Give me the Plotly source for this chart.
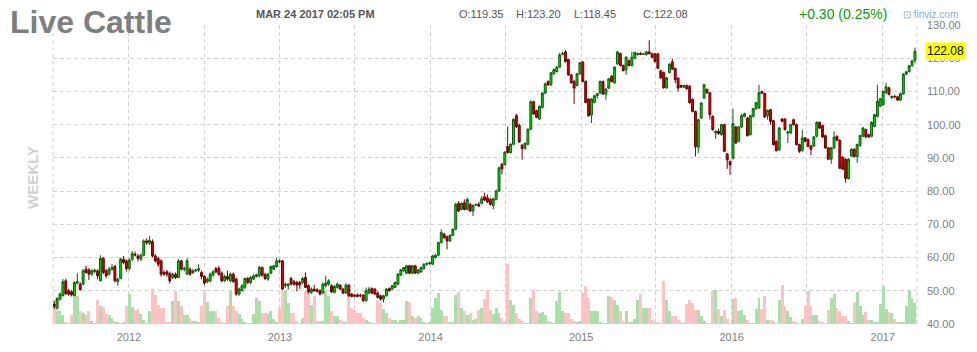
import plotly.graph_objects as go
import pandas as pd

# weekly bars: (open, high, low, close, volume)
w2011 = [
    (46.0, 47.0, 44.5, 45.3, 19), (44.8, 48.0, 44.2, 47.7, 13), (47.5, 49.5, 47.0, 49.0, 13),
    (48.6, 53.5, 48.2, 52.7, 9), (53.0, 53.6, 48.8, 49.1, 2), (50.0, 50.6, 48.5, 49.0, 1),
    (49.7, 50.2, 48.3, 48.8, 9), (48.6, 52.8, 48.3, 52.5, 28), (52.3, 55.3, 52.0, 52.7, 28),
    (52.0, 52.5, 50.0, 50.4, 13), (52.0, 56.5, 51.8, 56.0, 11), (56.5, 57.5, 55.2, 55.5, 9),
    (56.3, 56.8, 53.2, 55.0, 13), (55.0, 56.5, 54.5, 56.0, 3), (55.8, 56.7, 55.2, 56.2, 1),
    (56.0, 56.4, 53.5, 54.5, 24), (53.0, 60.7, 52.8, 59.7, 18), (59.7, 60.2, 55.0, 55.5, 17),
    (56.0, 56.6, 53.8, 54.5, 10), (55.0, 57.2, 54.6, 56.5, 9), (56.5, 58.0, 56.0, 57.0, 6),
    (57.3, 57.8, 52.5, 53.0, 3), (52.7, 54.0, 51.5, 53.5, 2), (53.7, 60.0, 53.5, 59.5, 1),
    (59.5, 60.5, 58.0, 58.5, 2), (59.0, 59.5, 55.8, 56.7, 18),
]
w2012 = [
    (56.7, 59.8, 56.0, 59.2, 30), (59.5, 62.0, 59.0, 61.2, 17), (61.0, 61.8, 60.3, 60.8, 14),
    (60.5, 61.0, 58.8, 59.7, 15), (59.5, 61.2, 59.0, 60.7, 10), (60.7, 65.5, 60.3, 65.0, 4),
    (65.0, 65.8, 63.8, 64.5, 1), (64.3, 66.5, 63.8, 65.2, 13), (64.8, 65.5, 60.0, 60.5, 35),
    (60.5, 61.0, 58.5, 59.0, 29), (59.7, 60.3, 57.2, 58.0, 19), (59.0, 59.5, 54.3, 55.0, 16),
    (55.5, 56.2, 54.5, 55.0, 16), (55.7, 56.3, 54.2, 55.0, 2), (55.2, 55.8, 52.2, 53.0, 2),
    (54.0, 55.5, 53.5, 55.0, 23), (55.0, 55.5, 53.5, 54.0, 33), (54.0, 59.5, 53.8, 59.0, 23),
    (59.0, 59.3, 56.0, 56.5, 18), (56.5, 57.3, 55.8, 56.7, 9), (55.0, 59.8, 54.8, 59.0, 9),
    (56.5, 57.0, 54.5, 55.0, 6), (55.5, 56.5, 55.0, 56.0, 3), (56.0, 56.6, 55.6, 56.2, 3),
    (56.2, 58.0, 55.6, 56.6, 2), (55.5, 56.0, 53.5, 54.3, 18), (54.3, 54.8, 51.8, 52.3, 34),
    (52.7, 54.0, 52.3, 53.5, 22), (53.0, 55.5, 52.5, 55.0, 13), (54.8, 56.2, 54.2, 55.7, 13),
    (56.7, 57.2, 55.3, 55.7, 13), (56.7, 57.5, 54.5, 55.0, 6), (55.3, 55.8, 52.5, 53.0, 2),
    (53.0, 54.8, 52.6, 54.3, 1), (54.3, 56.0, 53.0, 53.5, 18), (53.0, 55.5, 52.5, 55.0, 34),
    (55.0, 55.5, 52.5, 52.7, 18), (53.5, 54.0, 48.5, 49.0, 13), (49.0, 51.0, 48.5, 50.5, 10),
    (50.0, 52.0, 49.8, 51.5, 5), (51.0, 54.0, 50.5, 53.7, 2), (53.7, 54.2, 52.0, 52.5, 1),
    (52.5, 54.5, 52.0, 54.0, 1), (53.5, 55.0, 53.2, 54.5, 10), (54.3, 55.2, 54.0, 54.8, 26),
    (54.5, 57.5, 54.0, 57.0, 23), (57.0, 57.3, 54.2, 54.7, 11), (55.0, 55.3, 53.2, 53.7, 11),
    (53.5, 55.4, 53.0, 55.0, 10), (55.3, 57.6, 55.0, 57.3, 13), (56.5, 57.8, 56.2, 57.5, 5),
    (57.3, 60.0, 57.0, 59.0, 2), (59.0, 59.5, 58.3, 58.8, 16),
]
w2013 = [
    (59.0, 59.3, 50.2, 50.5, 33), (51.5, 52.5, 50.8, 52.0, 33), (51.5, 52.3, 50.3, 52.0, 21),
    (53.7, 54.2, 51.6, 52.0, 11), (52.7, 53.3, 51.5, 52.0, 11), (52.5, 53.0, 49.8, 51.7, 3),
    (52.5, 53.0, 50.5, 51.8, 1), (52.5, 54.2, 52.0, 53.7, 6), (54.0, 55.5, 50.8, 51.0, 33),
    (51.5, 52.0, 49.2, 49.7, 33), (49.5, 51.0, 49.0, 50.5, 19), (50.5, 51.8, 49.7, 50.0, 28),
    (50.3, 50.8, 49.5, 49.8, 3), (50.0, 50.5, 48.6, 49.0, 3), (49.3, 52.5, 49.0, 52.0, 3),
    (51.5, 54.5, 51.0, 52.3, 33), (52.0, 53.5, 51.5, 53.0, 28), (51.5, 52.0, 49.3, 49.7, 13),
    (49.5, 51.8, 49.2, 51.3, 8), (51.0, 52.5, 50.6, 52.0, 8), (51.7, 52.0, 50.2, 50.5, 4),
    (50.5, 50.8, 49.0, 49.3, 3), (49.3, 52.3, 49.0, 51.7, 2), (51.7, 52.0, 48.2, 48.5, 29),
    (49.0, 49.3, 48.0, 48.3, 16), (48.7, 49.0, 48.0, 48.4, 14), (48.8, 49.2, 48.0, 48.3, 11),
    (48.6, 49.2, 48.0, 48.5, 11), (48.7, 49.0, 46.7, 47.0, 6), (47.0, 51.0, 46.8, 50.0, 4),
    (49.3, 51.2, 49.0, 50.5, 2), (50.7, 51.0, 49.0, 49.3, 1), (50.5, 50.8, 48.7, 49.0, 1),
    (49.3, 49.8, 47.7, 48.0, 23), (48.5, 48.8, 47.0, 47.5, 21), (47.5, 48.8, 46.5, 48.5, 15),
    (48.5, 50.8, 48.2, 50.5, 11), (50.7, 51.0, 49.7, 50.0, 6), (50.5, 51.8, 50.2, 51.5, 4),
    (51.0, 52.8, 50.8, 52.5, 4), (52.0, 55.3, 51.7, 55.0, 2), (54.7, 56.5, 54.4, 56.3, 4),
    (56.0, 57.2, 55.7, 57.0, 4), (55.3, 57.8, 55.0, 57.5, 23), (57.5, 57.8, 55.0, 55.3, 22),
    (55.3, 57.7, 55.0, 57.5, 8), (57.5, 57.8, 55.0, 55.3, 6), (55.3, 56.6, 55.0, 56.3, 8),
    (55.7, 57.3, 55.4, 57.0, 6), (56.7, 58.3, 56.4, 58.0, 2), (58.0, 58.5, 57.5, 58.2, 1),
    (58.2, 58.8, 57.8, 58.4, 2),
]
w2014 = [
    (58.0, 60.8, 57.8, 60.5, 16), (60.0, 61.0, 59.7, 60.7, 26), (60.7, 64.8, 60.4, 64.5, 31),
    (64.5, 68.5, 64.2, 67.5, 14), (67.0, 67.5, 65.5, 66.0, 8), (66.3, 66.6, 62.5, 65.0, 8),
    (65.0, 67.0, 64.7, 66.7, 2), (66.7, 68.8, 66.4, 68.5, 2), (68.5, 76.5, 68.2, 76.0, 29),
    (76.3, 77.0, 73.7, 74.0, 32), (74.5, 76.6, 74.2, 76.3, 16), (76.5, 77.5, 74.2, 74.5, 13),
    (74.5, 78.0, 74.2, 77.5, 9), (76.0, 76.5, 73.7, 74.0, 11), (74.0, 76.0, 72.5, 75.7, 4),
    (75.8, 76.3, 75.5, 76.0, 5), (76.0, 76.8, 75.2, 75.5, 14), (76.3, 78.5, 76.0, 77.7, 16),
    (78.3, 79.5, 77.0, 77.3, 25), (78.0, 79.0, 76.4, 76.7, 34), (77.5, 78.0, 75.7, 76.0, 14),
    (75.7, 78.0, 74.5, 77.7, 10), (77.5, 80.5, 77.2, 80.0, 16), (80.0, 87.3, 79.7, 87.0, 11),
    (88.0, 88.5, 85.0, 86.7, 6), (88.0, 92.0, 87.7, 91.7, 2), (93.4, 99.4, 91.3, 91.6, 60),
    (91.6, 94.4, 91.3, 94.1, 24), (94.1, 101.9, 93.8, 101.6, 19), (102.7, 103.3, 99.0, 99.4, 11),
    (99.8, 100.3, 94.5, 94.8, 5), (93.8, 94.2, 89.5, 92.8, 3), (92.8, 94.7, 92.5, 94.4, 1),
    (94.1, 98.9, 93.8, 98.6, 1), (98.6, 107.3, 98.3, 106.9, 26), (106.9, 107.2, 102.9, 103.2, 34),
    (104.2, 104.5, 101.9, 102.2, 13), (101.7, 105.8, 101.4, 105.5, 11), (105.2, 109.8, 104.9, 109.5, 12),
    (109.5, 112.6, 109.2, 112.3, 9), (113.0, 113.3, 111.7, 112.0, 3), (112.0, 115.9, 111.7, 115.6, 2),
    (115.3, 116.9, 115.0, 116.6, 1), (116.0, 117.6, 115.7, 117.3, 23), (117.3, 121.6, 117.0, 121.0, 32),
    (121.2, 122.0, 120.8, 121.4, 13), (121.9, 122.5, 118.7, 119.0, 11), (119.6, 119.9, 114.7, 115.0, 11),
    (115.0, 115.3, 112.3, 112.6, 5), (113.0, 113.5, 106.2, 111.0, 3), (111.8, 115.6, 111.5, 115.3, 2),
    (115.3, 118.9, 115.0, 118.6, 3),
]
w2015 = [
    (118.8, 119.2, 112.7, 113.0, 31), (113.0, 113.3, 106.4, 106.7, 38), (107.7, 108.0, 102.4, 102.7, 26),
    (102.9, 108.0, 100.5, 107.7, 13), (106.7, 109.0, 106.4, 108.7, 13), (108.7, 109.6, 107.8, 109.3, 13),
    (109.5, 113.3, 109.2, 113.0, 2), (113.0, 113.3, 108.9, 109.2, 1), (109.2, 111.0, 107.5, 110.7, 1),
    (111.0, 114.1, 110.7, 113.8, 28), (114.6, 114.9, 112.7, 113.0, 27), (112.6, 117.6, 112.3, 117.3, 24),
    (118.3, 122.2, 118.0, 121.9, 19), (121.4, 121.7, 117.5, 117.8, 13), (117.8, 118.1, 116.0, 116.3, 3),
    (116.5, 120.6, 115.0, 120.3, 13), (119.3, 119.6, 117.5, 117.8, 2), (117.8, 122.0, 117.5, 120.3, 2),
    (120.0, 122.0, 119.7, 121.7, 5), (121.1, 121.7, 120.8, 121.4, 24), (121.4, 121.8, 120.9, 121.2, 30),
    (121.2, 121.6, 121.0, 121.3, 16), (121.1, 122.2, 120.8, 121.9, 16), (121.9, 125.4, 121.1, 121.4, 16),
    (121.4, 121.7, 120.0, 120.3, 4), (121.3, 121.6, 118.7, 119.0, 2), (121.3, 121.6, 116.7, 117.0, 2),
    (116.2, 116.5, 113.8, 114.1, 1), (115.7, 116.0, 110.8, 111.1, 43), (111.1, 114.4, 110.8, 114.1, 24),
    (115.7, 118.5, 115.4, 118.2, 13), (118.9, 119.8, 116.4, 116.7, 8), (116.9, 117.2, 112.5, 113.6, 8),
    (114.0, 114.3, 110.0, 111.0, 4), (111.8, 112.1, 111.0, 111.3, 2), (111.3, 112.0, 111.0, 111.8, 1),
    (111.8, 112.1, 110.5, 110.8, 20), (111.6, 111.9, 106.3, 106.6, 24), (107.6, 107.9, 103.7, 104.0, 21),
    (104.0, 104.3, 90.4, 93.4, 14), (93.2, 101.8, 91.5, 101.5, 14), (102.0, 106.8, 101.7, 106.5, 8),
    (108.0, 112.3, 107.7, 112.0, 3), (110.6, 110.9, 109.3, 109.6, 1), (109.6, 109.9, 101.5, 103.0, 1),
    (102.5, 102.8, 98.2, 98.5, 33), (97.5, 98.3, 95.7, 98.0, 34), (98.0, 98.8, 97.0, 97.3, 15),
    (97.0, 100.3, 96.7, 100.0, 8), (100.0, 100.3, 91.7, 92.0, 14), (91.2, 91.5, 86.7, 89.4, 5),
    (88.9, 89.2, 84.9, 87.9, 1),
]
w2016 = [
    (89.9, 104.8, 89.5, 100.3, 25), (99.3, 99.6, 94.2, 94.5, 26), (95.0, 99.6, 94.7, 99.3, 13),
    (99.3, 103.3, 99.0, 102.7, 14), (102.5, 103.6, 102.2, 103.3, 9), (102.0, 102.3, 96.4, 96.7, 4),
    (97.0, 103.0, 96.7, 102.7, 1), (102.5, 105.1, 102.2, 104.8, 1), (104.8, 106.9, 104.5, 106.6, 15),
    (105.0, 112.0, 104.7, 109.6, 26), (109.9, 110.2, 109.2, 109.5, 15), (109.4, 109.7, 102.0, 102.3, 28),
    (102.7, 104.6, 101.5, 104.3, 4), (104.5, 104.8, 100.0, 101.0, 4), (101.2, 101.5, 93.7, 94.0, 3),
    (95.0, 95.3, 91.9, 92.2, 1), (92.4, 99.3, 92.1, 99.0, 24), (101.7, 102.0, 100.7, 101.0, 39),
    (101.7, 102.0, 98.2, 98.5, 18), (97.5, 98.2, 94.5, 97.8, 13), (97.5, 100.3, 97.2, 100.0, 7),
    (101.5, 101.8, 99.7, 100.0, 3), (100.0, 100.3, 93.7, 94.0, 2), (94.0, 94.3, 91.5, 92.0, 1),
    (92.2, 98.5, 91.9, 96.0, 5), (96.0, 96.3, 94.7, 95.0, 18), (95.5, 95.8, 93.2, 93.5, 33),
    (93.6, 93.9, 90.8, 92.6, 18), (93.6, 96.6, 93.3, 96.3, 9), (96.5, 101.0, 96.2, 100.7, 9),
    (100.7, 101.0, 98.7, 99.0, 3), (99.7, 100.0, 96.0, 96.3, 2), (96.7, 97.0, 92.7, 93.0, 1),
    (93.0, 93.3, 89.3, 89.6, 14), (89.6, 93.3, 88.2, 93.0, 26), (93.0, 98.0, 92.7, 96.3, 30),
    (96.5, 96.8, 95.0, 95.3, 16), (95.3, 95.6, 86.6, 86.9, 13), (90.2, 90.5, 86.3, 86.6, 8),
    (89.6, 89.9, 82.5, 83.8, 8), (83.8, 89.9, 83.5, 89.6, 3), (90.6, 92.9, 90.3, 92.6, 1),
    (92.6, 92.9, 90.1, 90.4, 22), (90.4, 94.3, 88.5, 94.0, 32), (93.7, 97.0, 93.4, 96.7, 18),
    (96.5, 99.3, 96.2, 99.0, 9), (98.5, 98.8, 96.0, 96.3, 12), (97.0, 97.3, 96.0, 96.3, 4),
    (96.5, 101.0, 96.2, 100.7, 4), (99.5, 103.3, 99.2, 103.0, 2), (102.5, 112.0, 102.2, 107.0, 2),
    (105.6, 108.1, 105.3, 107.8, 20),
]
w2017 = [
    (106.0, 110.3, 105.7, 110.0, 38), (109.6, 112.6, 109.3, 111.4, 15), (111.1, 111.4, 108.8, 109.1, 12),
    (108.1, 108.8, 107.8, 108.5, 11), (108.5, 109.0, 107.9, 108.4, 5), (108.4, 108.7, 107.1, 107.4, 2),
    (107.4, 109.6, 107.1, 109.3, 2), (109.3, 115.5, 109.0, 115.2, 2), (115.2, 116.2, 114.9, 115.9, 18),
    (116.0, 118.0, 115.7, 117.7, 34), (117.7, 119.5, 117.4, 119.2, 26), (119.35, 123.2, 118.45, 122.08, 21),
]

first_week = "2011-07-04"
price_ticks = [40, 50, 60, 70, 80, 90, 100, 110, 120, 130]
x_tickvals = ["2011-07-01", "2012-01-01", "2012-07-01", "2013-01-01", "2013-07-01",
              "2014-01-01", "2014-07-01", "2015-01-01", "2015-07-01", "2016-01-01",
              "2016-07-01", "2017-01-01"]
x_ticktext = ["", "2012", "", "2013", "", "2014", "", "2015", "", "2016", "", "2017"]

rows = w2011 + w2012 + w2013 + w2014 + w2015 + w2016 + w2017
dates = pd.date_range(first_week, periods=len(rows), freq="7D")
opens = [r[0] for r in rows]
highs = [r[1] for r in rows]
lows = [r[2] for r in rows]
closes = [r[3] for r in rows]
vols = [r[4] for r in rows]
vcols = ["#aadfaa" if c >= o else "#ffc2c2" for o, c in zip(opens, closes)]

FONT = "Liberation Sans, Arial, sans-serif"
L, R, T, B = 53, 917, 25, 324


def px(x):
    return (x - L) / (R - L)


def py(y):
    return (B - y) / (B - T)


fig = go.Figure()
fig.add_trace(go.Bar(x=dates, y=vols, marker=dict(color=vcols, line=dict(width=0)),
                     yaxis="y", hoverinfo="skip", showlegend=False))
fig.add_trace(go.Candlestick(
    x=dates, open=opens, high=highs, low=lows, close=closes, yaxis="y2",
    increasing=dict(line=dict(color="#0a5c0a", width=1), fillcolor="#00dd00"),
    decreasing=dict(line=dict(color="#6a0000", width=1), fillcolor="#dd0000"),
    whiskerwidth=0, showlegend=False))

grid = dict(showgrid=True, gridcolor="#d2d2d2", griddash="4px,3px", gridwidth=1)

fig.update_layout(
    width=977, height=352,
    margin=dict(l=L, r=977 - R, t=T, b=352 - B, autoexpand=False),
    paper_bgcolor="white", plot_bgcolor="white",
    font=dict(family=FONT),
    bargap=0, boxgap=0.05, showlegend=False,
    xaxis=dict(type="date", range=["2011-07-01", "2017-03-25"], tickvals=x_tickvals,
               ticktext=x_ticktext, ticks="", zeroline=False, showline=False,
               rangeslider=dict(visible=False), ticklabelstandoff=5, automargin=False,
               tickfont=dict(size=11, color="#808080", family=FONT), **grid),
    yaxis=dict(range=[0, B - T], visible=False, showgrid=False, zeroline=False,
               automargin=False),
    yaxis2=dict(overlaying="y", side="right", range=[40, 130], tickvals=price_ticks,
                tickformat=".2f", ticks="", zeroline=False, showline=False,
                ticklabelstandoff=9, automargin=False,
                tickfont=dict(size=11, color="#808080", family=FONT), **grid),
)

# dashed frame lines at left and right edge
for xx in (0, 1):
    fig.add_shape(type="line", xref="paper", yref="paper", x0=xx, x1=xx, y0=0, y1=1,
                  line=dict(color="#d2d2d2", width=1, dash="4px,3px"), layer="below")

ann = [
    dict(text="<b>Live Cattle</b>", x=px(8), y=py(22), xanchor="left", yanchor="middle",
         font=dict(size=32, color="#7f7f7f")),
    dict(text="<b>MAR 24 2017 02:05 PM</b>", x=px(315), y=py(14), xanchor="center", yanchor="middle",
         font=dict(size=11, color="#555555")),
    dict(text="O:119.35", x=px(457), y=py(14), xanchor="left", yanchor="middle",
         font=dict(size=11, color="#555555")),
    dict(text="H:123.20", x=px(514), y=py(14), xanchor="left", yanchor="middle",
         font=dict(size=11, color="#555555")),
    dict(text="L:118.45", x=px(572), y=py(14), xanchor="left", yanchor="middle",
         font=dict(size=11, color="#555555")),
    dict(text="C:122.08", x=px(641), y=py(14), xanchor="left", yanchor="middle",
         font=dict(size=11, color="#555555")),
    dict(text="+0.30 (0.25%)", x=px(797), y=py(14), xanchor="left", yanchor="middle",
         font=dict(size=14, color="#0b9a0b")),
    dict(text="⊡ finviz.com", x=px(901), y=py(14), xanchor="left", yanchor="middle",
         font=dict(size=10, color="#7fb0e0")),
    dict(text="<b>WEEKLY</b>", x=px(32), y=py(178), xanchor="center", yanchor="middle",
         textangle=-90, font=dict(size=15, color="#d0d0d0")),
    dict(text="<b>LIVE CATTLE</b>", x=px(7), y=py(346), xanchor="left", yanchor="top",
         font=dict(size=15, color="#8a8a8a")),
]
for a in ann:
    fig.add_annotation(xref="paper", yref="paper", showarrow=False, **a)

fig.add_annotation(xref="paper", yref="y2", x=px(925), y=closes[-1], text=f"{closes[-1]:.2f}",
                   xanchor="left", yanchor="middle", showarrow=False, bgcolor="#ffff00",
                   borderpad=1, font=dict(size=12, color="#000000"))

fig.write_html("out.html")
